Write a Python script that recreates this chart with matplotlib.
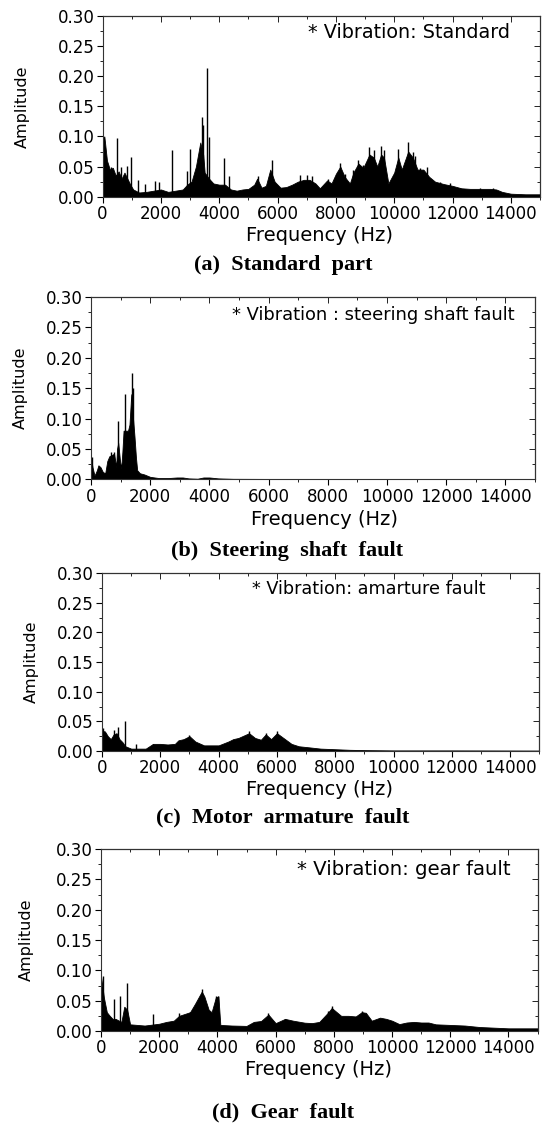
import matplotlib
matplotlib.use("Agg")
import matplotlib.pyplot as plt
from matplotlib.ticker import MultipleLocator, FormatStrFormatter, NullFormatter

# ---- spectra: body envelope (freq, amp) + narrow spikes ----
# (a) standard part
freq_a = [0, 60, 150, 250, 350, 450, 550, 650, 750, 850, 950, 1050, 1250, 1500, 1750,
          2000, 2250, 2500, 2750, 2900, 3050, 3200, 3350, 3450, 3500, 3650, 3800, 4000,
          4200, 4400, 4600, 4800, 5000, 5200, 5300, 5450, 5600, 5750, 5900, 6100, 6300,
          6500, 6700, 6900, 7100, 7300, 7450, 7700, 7850, 8000, 8150, 8300, 8480, 8600,
          8770, 8940, 9150, 9300, 9420, 9550, 9650, 9800, 10000, 10140, 10260, 10480,
          10640, 10800, 11000, 11200, 11400, 11700, 12000, 12300, 12600, 13000, 13300,
          13500, 13700, 14000, 14500, 15000]
amp_a = [0.095, 0.10, 0.06, 0.045, 0.048, 0.035, 0.042, 0.03, 0.04, 0.03, 0.02, 0.012,
         0.007, 0.008, 0.01, 0.012, 0.008, 0.01, 0.012, 0.02, 0.025, 0.05, 0.09, 0.07,
         0.04, 0.03, 0.022, 0.02, 0.02, 0.012, 0.01, 0.012, 0.013, 0.02, 0.03, 0.015,
         0.018, 0.045, 0.025, 0.015, 0.016, 0.02, 0.025, 0.028, 0.028, 0.022, 0.014,
         0.027, 0.022, 0.038, 0.05, 0.033, 0.022, 0.04, 0.055, 0.048, 0.07, 0.065, 0.05,
         0.07, 0.065, 0.022, 0.04, 0.065, 0.045, 0.075, 0.065, 0.045, 0.045, 0.033,
         0.025, 0.021, 0.018, 0.014, 0.013, 0.013, 0.013, 0.012, 0.008, 0.005, 0.004,
         0.004]
spike_f_a = [24, 505, 290, 620, 848, 974, 1203, 1454, 1797, 1945, 2391, 2891, 2997, 3397,
             3460, 3580, 3660, 4174, 4345, 5340, 5798, 6769, 7000, 7170, 7718, 8140, 8310,
             8597, 8768, 8940, 9146, 9306, 9547, 9650, 10140, 10484, 10634, 10712, 10884,
             11113, 11570, 11913, 12256, 12940, 13397]
spike_a_a = [0.10, 0.097, 0.05, 0.05, 0.051, 0.066, 0.028, 0.021, 0.026, 0.024, 0.0775,
             0.0427, 0.0787, 0.132, 0.119, 0.213, 0.099, 0.065, 0.034, 0.034, 0.061,
             0.036, 0.036, 0.035, 0.029, 0.0565, 0.037, 0.044, 0.061, 0.052, 0.083,
             0.078, 0.084, 0.078, 0.079, 0.09, 0.074, 0.067, 0.047, 0.049, 0.025, 0.022,
             0.014, 0.014, 0.014]

# (b) steering shaft fault
freq_b = [0, 50, 120, 200, 250, 320, 400, 480, 550, 620, 700, 780, 850, 880, 920, 980,
          1020, 1060, 1100, 1180, 1250, 1300, 1360, 1420, 1470, 1520, 1560, 1650, 1800,
          2000, 2300, 2600, 2900, 3100, 3300, 3600, 3800, 4000, 4300, 4800, 6000, 10000,
          15000]
amp_b = [0.036, 0.02, 0.006, 0.015, 0.023, 0.02, 0.012, 0.01, 0.03, 0.038, 0.04, 0.042,
         0.02, 0.05, 0.06, 0.03, 0.018, 0.045, 0.08, 0.08, 0.08, 0.09, 0.14, 0.10, 0.07,
         0.035, 0.015, 0.01, 0.008, 0.004, 0.002, 0.002, 0.003, 0.003, 0.0015, 0.001,
         0.003, 0.003, 0.0015, 0.0008, 0.0006, 0.0006, 0.0005]
spike_f_b = [20, 680, 780, 900, 1140, 1370, 1430]
spike_a_b = [0.036, 0.045, 0.045, 0.096, 0.141, 0.175, 0.15]

# (c) motor armature fault
freq_c = [0, 100, 200, 300, 400, 500, 600, 700, 800, 1000, 1250, 1500, 1750, 2000, 2250,
          2500, 2620, 2800, 3000, 3200, 3500, 3750, 4000, 4335, 4500, 4680, 5044, 5250,
          5450, 5617, 5800, 6000, 6250, 6500, 6750, 7136, 7500, 8000, 8500, 9000, 10000,
          12000, 15000]
amp_c = [0.034, 0.033, 0.025, 0.02, 0.028, 0.03, 0.02, 0.015, 0.008, 0.004, 0.004, 0.004,
         0.012, 0.012, 0.011, 0.012, 0.018, 0.02, 0.025, 0.016, 0.0095, 0.0095, 0.0095,
         0.016, 0.02, 0.022, 0.03, 0.022, 0.019, 0.028, 0.02, 0.03, 0.021, 0.012, 0.008,
         0.006, 0.004, 0.003, 0.002, 0.0015, 0.001, 0.001, 0.0008]
spike_f_c = [40, 400, 541, 792, 1158, 1763, 2997, 5044, 5617, 5994]
spike_a_c = [0.038, 0.035, 0.04, 0.051, 0.011, 0.012, 0.027, 0.034, 0.031, 0.033]

# (d) gear fault
freq_d = [0, 50, 100, 200, 300, 400, 500, 700, 800, 900, 1000, 1250, 1500, 2000, 2250,
          2500, 2683, 3060, 3232, 3462, 3550, 3700, 3800, 3943, 4033, 4100, 4500, 5000,
          5250, 5500, 5751, 6000, 6324, 6600, 7000, 7250, 7500, 7812, 7928, 8050, 8250,
          8500, 8750, 8958, 9100, 9300, 9588, 9800, 10000, 10250, 10500, 10750, 11000,
          11250, 11500, 12000, 12500, 13000, 13500, 14000, 14500, 15000]
amp_d = [0.09, 0.073, 0.055, 0.031, 0.025, 0.02, 0.02, 0.015, 0.04, 0.035, 0.011, 0.01,
         0.009, 0.012, 0.015, 0.017, 0.025, 0.031, 0.045, 0.065, 0.057, 0.035, 0.031,
         0.055, 0.057, 0.01, 0.009, 0.0084, 0.015, 0.0165, 0.027, 0.013, 0.02, 0.017,
         0.0137, 0.013, 0.015, 0.031, 0.038, 0.033, 0.025, 0.025, 0.024, 0.031, 0.03,
         0.017, 0.022, 0.02, 0.017, 0.0114, 0.014, 0.015, 0.014, 0.014, 0.011, 0.010,
         0.009, 0.0066, 0.0055, 0.0044, 0.0044, 0.0044]
spike_f_d = [72, 461, 656, 885, 1790, 2683, 3060, 3462, 3943, 4033, 5751, 6324, 7812,
             7928, 8958]
spike_a_d = [0.0906, 0.0527, 0.0577, 0.0786, 0.0275, 0.03, 0.031, 0.0687, 0.057, 0.0577,
             0.029, 0.02, 0.0335, 0.041, 0.033]

notes = ["* Vibration: Standard", "* Vibration : steering shaft fault",
         "* Vibration: amarture fault", "* Vibration: gear fault"]
captions = ["(a)  Standard  part", "(b)  Steering  shaft  fault",
            "(c)  Motor  armature  fault", "(d)  Gear  fault"]

plt.rcParams['font.family'] = ['DejaVu Sans']

W, H = 547, 1124
fig = plt.figure(figsize=(W / 100, H / 100), dpi=100)

# axes boxes in pixels: left, right, top, bottom
boxes = [(102.6, 540, 16, 196.7), (91, 535, 297, 479.3), (102, 539.3, 573, 751),
         (101, 537.6, 849, 1031)]
note_pos = [(0.931, 0.906), (0.955, 0.90), (0.876, 0.91), (0.938, 0.885)]
note_size = [13.8, 12.9, 12.7, 14.2]
xlab_pos = [(0.497, -0.212), (0.525, -0.218), (0.498, -0.219), (0.499, -0.214)]
ylab_x = [-0.183, -0.158, -0.162, -0.172]
cap_xy = [(283, 265), (287, 551), (283, 817), (283, 1112)]

series = [(freq_a, amp_a, spike_f_a, spike_a_a), (freq_b, amp_b, spike_f_b, spike_a_b),
          (freq_c, amp_c, spike_f_c, spike_a_c), (freq_d, amp_d, spike_f_d, spike_a_d)]

for i, (l, r, t, b) in enumerate(boxes):
    ax = fig.add_axes([l / W, 1 - b / H, (r - l) / W, (b - t) / H])
    f, a, sf, sa = series[i]
    ax.fill_between(f, 0, a, color="black", lw=0.6, edgecolor="black")
    ax.vlines(sf, 0, sa, color="black", lw=1.0)
    ax.set_xlim(0, 15000)
    ax.set_ylim(0, 0.30)
    ax.xaxis.set_major_locator(MultipleLocator(2000))
    ax.xaxis.set_minor_locator(MultipleLocator(1000))
    ax.yaxis.set_major_locator(MultipleLocator(0.05))
    ax.yaxis.set_minor_locator(MultipleLocator(0.025))
    ax.yaxis.set_major_formatter(FormatStrFormatter("%.2f"))
    ax.tick_params(which="both", direction="out", labelsize=12, pad=2)
    ax.tick_params(which="major", length=4, width=0.8)
    ax.tick_params(which="minor", length=2, width=0.6)
    # inward ticks on the top and right frame
    top = ax.secondary_xaxis("top")
    top.xaxis.set_major_locator(MultipleLocator(2000))
    top.xaxis.set_minor_locator(MultipleLocator(1000))
    top.xaxis.set_major_formatter(NullFormatter())
    rgt = ax.secondary_yaxis("right")
    rgt.yaxis.set_major_locator(MultipleLocator(0.05))
    rgt.yaxis.set_minor_locator(MultipleLocator(0.025))
    rgt.yaxis.set_major_formatter(NullFormatter())
    for sec in (top, rgt):
        sec.tick_params(which="both", direction="in", width=0.6)
        sec.tick_params(which="major", length=4)
        sec.tick_params(which="minor", length=2)
    for s in ax.spines.values():
        s.set_linewidth(0.8)
        s.set_color("#333333")
    ax.set_xlabel("Frequency (Hz)", fontsize=14, va="center")
    ax.set_ylabel("Amplitude", fontsize=11.5, va="center")
    ax.xaxis.set_label_coords(*xlab_pos[i])
    ax.yaxis.set_label_coords(ylab_x[i], 0.5)
    ax.text(note_pos[i][0], note_pos[i][1], notes[i], transform=ax.transAxes,
            ha="right", va="center", fontsize=note_size[i])
    cx, cy = cap_xy[i]
    fig.text(cx / W, 1 - cy / H, captions[i], ha="center", va="center",
             fontsize=16, fontweight="bold", family=["Liberation Serif", "DejaVu Serif"])

fig.savefig("out.png", dpi=100)
